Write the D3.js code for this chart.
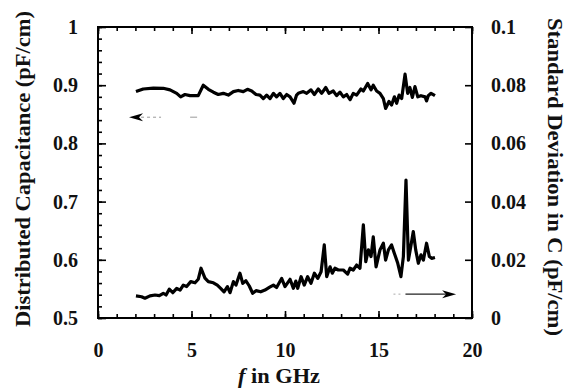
<!DOCTYPE html>
<html>
<head>
<meta charset="utf-8">
<script src="https://cdn.jsdelivr.net/npm/d3@7"></script>
<style>
  body { margin: 0; background: #fff; }
  svg { display: block; }
</style>
</head>
<body>
<div id="chart"></div>
<script>
// Distributed capacitance (left axis), [f in GHz, pF/cm]
const capacitance = [
  [2.03, 0.889], [2.42, 0.8935], [2.96, 0.895], [3.49, 0.8947], [3.85, 0.892],
  [4.21, 0.886], [4.42, 0.880], [4.65, 0.884], [4.92, 0.882], [5.36, 0.882],
  [5.63, 0.900], [5.90, 0.893], [6.17, 0.888], [6.43, 0.884], [6.70, 0.886],
  [6.97, 0.883], [7.24, 0.889], [7.50, 0.891], [7.77, 0.889], [7.99, 0.893],
  [8.22, 0.890], [8.45, 0.884], [8.66, 0.883], [8.84, 0.877], [9.02, 0.883],
  [9.20, 0.877], [9.38, 0.886], [9.55, 0.880], [9.73, 0.886], [9.91, 0.877],
  [10.09, 0.884], [10.27, 0.880], [10.48, 0.869], [10.62, 0.883], [10.71, 0.886],
  [10.98, 0.889], [11.16, 0.886], [11.39, 0.892], [11.57, 0.884], [11.78, 0.8935],
  [11.96, 0.886], [12.18, 0.896], [12.35, 0.886], [12.58, 0.890], [12.76, 0.882],
  [12.94, 0.888], [13.12, 0.880], [13.30, 0.884], [13.48, 0.875], [13.65, 0.886],
  [13.83, 0.883], [14.06, 0.8935], [14.19, 0.890], [14.42, 0.903], [14.60, 0.892],
  [14.72, 0.900], [14.90, 0.890], [15.08, 0.886], [15.26, 0.877], [15.38, 0.860],
  [15.56, 0.872], [15.70, 0.866], [15.85, 0.880], [15.97, 0.869], [16.10, 0.883],
  [16.24, 0.877], [16.42, 0.919], [16.56, 0.886], [16.68, 0.896], [16.81, 0.879],
  [16.95, 0.8975], [17.10, 0.880], [17.27, 0.882], [17.49, 0.880], [17.57, 0.873],
  [17.66, 0.882], [17.81, 0.886], [18.02, 0.882]
];

// Standard deviation in C (right axis), [f in GHz, pF/cm]
const stdDev = [
  [2.03, 0.0076], [2.33, 0.0073], [2.51, 0.0068], [2.78, 0.0076], [3.05, 0.0079],
  [3.28, 0.0077], [3.49, 0.0085], [3.64, 0.0079], [3.81, 0.0099], [4.00, 0.0087],
  [4.21, 0.0102], [4.39, 0.0096], [4.56, 0.0113], [4.74, 0.0108], [4.96, 0.0125],
  [5.19, 0.0121], [5.36, 0.0133], [5.51, 0.0171], [5.72, 0.0137], [5.90, 0.0125],
  [6.17, 0.0121], [6.38, 0.0113], [6.56, 0.0102], [6.74, 0.0090], [6.92, 0.0108],
  [7.06, 0.0087], [7.24, 0.0125], [7.38, 0.0113], [7.59, 0.0154], [7.74, 0.0119],
  [7.91, 0.0128], [8.09, 0.0110], [8.27, 0.0085], [8.45, 0.0094], [8.70, 0.0090],
  [8.93, 0.0096], [9.16, 0.0105], [9.38, 0.0113], [9.55, 0.0105], [9.82, 0.0136],
  [10.00, 0.0108], [10.27, 0.0133], [10.45, 0.0102], [10.58, 0.0127], [10.68, 0.0102],
  [10.86, 0.0142], [11.03, 0.0113], [11.21, 0.0142], [11.39, 0.0119], [11.57, 0.0154],
  [11.75, 0.0136], [11.93, 0.0159], [12.10, 0.0251], [12.23, 0.0142], [12.41, 0.0176],
  [12.53, 0.0154], [12.67, 0.0171], [12.85, 0.0165], [13.12, 0.0165], [13.35, 0.0151],
  [13.48, 0.0171], [13.65, 0.0165], [13.83, 0.0182], [14.01, 0.0171], [14.19, 0.0320],
  [14.32, 0.0194], [14.46, 0.0234], [14.60, 0.0211], [14.72, 0.0279], [14.87, 0.0176],
  [15.08, 0.0234], [15.26, 0.0257], [15.38, 0.0199], [15.53, 0.0234], [15.70, 0.0251],
  [15.85, 0.0222], [16.03, 0.0188], [16.20, 0.0142], [16.33, 0.0211], [16.47, 0.0474],
  [16.60, 0.0199], [16.74, 0.0251], [16.86, 0.0297], [16.99, 0.0234], [17.13, 0.0188],
  [17.27, 0.0217], [17.40, 0.0199], [17.57, 0.0257], [17.72, 0.0211], [17.84, 0.0205],
  [18.02, 0.0208]
];

const xTicks = [0, 5, 10, 15, 20];
const leftTicks = [0.5, 0.6, 0.7, 0.8, 0.9, 1];
const rightTicks = [0, 0.02, 0.04, 0.06, 0.08, 0.1];

// arrows telling which curve belongs to which axis
const leftArrow = { from: [5.3, 0.845], to: [1.66, 0.845] };
const rightArrow = { from: [15.8, 0.0082], to: [19.15, 0.0082] };

const width = 569, height = 388;
const margin = { top: 27, right: 97, bottom: 70, left: 98 };
const chartWidth = width - margin.left - margin.right;
const chartHeight = height - margin.top - margin.bottom;
const font = "'Liberation Serif', 'Times New Roman', serif";

const svg = d3.select("#chart").append("svg")
  .attr("width", width)
  .attr("height", height)
  .style("font-family", font);

const g = svg.append("g")
  .attr("transform", `translate(${margin.left},${margin.top})`);

const x = d3.scaleLinear().domain([0, 20]).range([0, chartWidth]);
const yLeft = d3.scaleLinear().domain([0.5, 1]).range([chartHeight, 0]);
const yRight = d3.scaleLinear().domain([0, 0.1]).range([chartHeight, 0]);

function styleAxis(sel) {
  sel.select(".domain").remove();
  sel.selectAll(".tick line").attr("stroke", "#000").attr("stroke-width", 1.6);
  sel.selectAll(".tick text")
    .attr("fill", "#111")
    .attr("font-size", 20)
    .attr("font-weight", "bold")
    .attr("font-family", font);
}

// minor ticks first, then labelled majors
g.append("g").attr("transform", `translate(0,${chartHeight})`)
  .call(d3.axisBottom(x).tickValues(d3.range(0, 21, 1)).tickSize(-4).tickFormat(""))
  .call(styleAxis);
g.append("g").attr("transform", `translate(0,${chartHeight})`)
  .call(d3.axisBottom(x).tickValues(xTicks).tickSize(-7).tickPadding(25).tickFormat(d3.format("d")))
  .call(styleAxis);

g.append("g")
  .call(d3.axisTop(x).tickValues(d3.range(0, 21, 1)).tickSize(-4).tickFormat(""))
  .call(styleAxis);
g.append("g")
  .call(d3.axisTop(x).tickValues(xTicks).tickSize(-7).tickFormat(""))
  .call(styleAxis);

g.append("g")
  .call(d3.axisLeft(yLeft).tickValues(d3.range(0.5, 1.001, 0.02)).tickSize(-4).tickFormat(""))
  .call(styleAxis);
g.append("g")
  .call(d3.axisLeft(yLeft).tickValues(leftTicks).tickSize(-8).tickPadding(20).tickFormat(d => d === 1 ? "1" : d3.format(".1f")(d)))
  .call(styleAxis);

g.append("g").attr("transform", `translate(${chartWidth},0)`)
  .call(d3.axisRight(yRight).tickValues(rightTicks).tickSize(-7).tickPadding(19).tickFormat(d => d === 0 ? "0" : d3.format("")(+d.toFixed(2))))
  .call(styleAxis);

// frame
g.append("rect")
  .attr("width", chartWidth)
  .attr("height", chartHeight)
  .attr("fill", "none")
  .attr("stroke", "#000")
  .attr("stroke-width", 2);

// curves
const capLine = d3.line().x(d => x(d[0])).y(d => yLeft(d[1]));
const sdLine = d3.line().x(d => x(d[0])).y(d => yRight(d[1]));

g.append("path")
  .datum(capacitance)
  .attr("d", capLine)
  .attr("fill", "none")
  .attr("stroke", "#000")
  .attr("stroke-width", 3.2)
  .attr("stroke-linejoin", "round");

g.append("path")
  .datum(stdDev)
  .attr("d", sdLine)
  .attr("fill", "none")
  .attr("stroke", "#000")
  .attr("stroke-width", 3.2)
  .attr("stroke-linejoin", "round");

// arrows
function arrowHead(tipX, tipY, dir) {
  const len = 14, half = 4;
  const bx = tipX - dir * len;
  return `M${tipX},${tipY} L${bx},${tipY - half} L${bx + dir * 4},${tipY} L${bx},${tipY + half} Z`;
}

const la = {
  x1: x(leftArrow.from[0]), x2: x(leftArrow.to[0]), y: yLeft(leftArrow.to[1])
};
g.append("line")
  .attr("x1", la.x2 + 12).attr("x2", la.x2 + 32)
  .attr("y1", la.y).attr("y2", la.y)
  .attr("stroke", "#999").attr("stroke-width", 1).attr("stroke-dasharray", "3,3");
g.append("line")
  .attr("x1", la.x1 - 7).attr("x2", la.x1)
  .attr("y1", la.y).attr("y2", la.y)
  .attr("stroke", "#aaa").attr("stroke-width", 1.2);
g.append("path").attr("d", arrowHead(la.x2, la.y, -1)).attr("fill", "#000");

const ra = {
  x1: x(rightArrow.from[0]), x2: x(rightArrow.to[0]), y: yRight(rightArrow.to[1])
};
g.append("line")
  .attr("x1", ra.x1).attr("x2", ra.x1 + 10)
  .attr("y1", ra.y).attr("y2", ra.y)
  .attr("stroke", "#aaa").attr("stroke-width", 1).attr("stroke-dasharray", "2,3");
g.append("line")
  .attr("x1", ra.x1 + 12).attr("x2", ra.x2 - 10)
  .attr("y1", ra.y).attr("y2", ra.y)
  .attr("stroke", "#222").attr("stroke-width", 1.2);
g.append("path").attr("d", arrowHead(ra.x2, ra.y, 1)).attr("fill", "#000");

// axis titles
svg.append("text")
  .attr("transform", `translate(30,169) rotate(-90)`)
  .attr("text-anchor", "middle")
  .attr("font-size", 20)
  .attr("font-weight", "bold")
  .attr("fill", "#111")
  .attr("textLength", 316)
  .attr("lengthAdjust", "spacingAndGlyphs")
  .text("Distributed Capacitance (pF/cm)");

svg.append("text")
  .attr("transform", `translate(548,177) rotate(90)`)
  .attr("text-anchor", "middle")
  .attr("font-size", 20)
  .attr("font-weight", "bold")
  .attr("fill", "#111")
  .attr("textLength", 318)
  .attr("lengthAdjust", "spacingAndGlyphs")
  .text("Standard Deviation in C (pF/cm)");

const xt = svg.append("text")
  .attr("x", 238)
  .attr("y", 383)
  .attr("font-size", 20)
  .attr("font-weight", "bold")
  .attr("fill", "#111")
  .attr("textLength", 82)
  .attr("lengthAdjust", "spacingAndGlyphs");
xt.append("tspan").attr("font-style", "italic").text("f");
xt.append("tspan").text(" in GHz");
</script>
</body>
</html>
